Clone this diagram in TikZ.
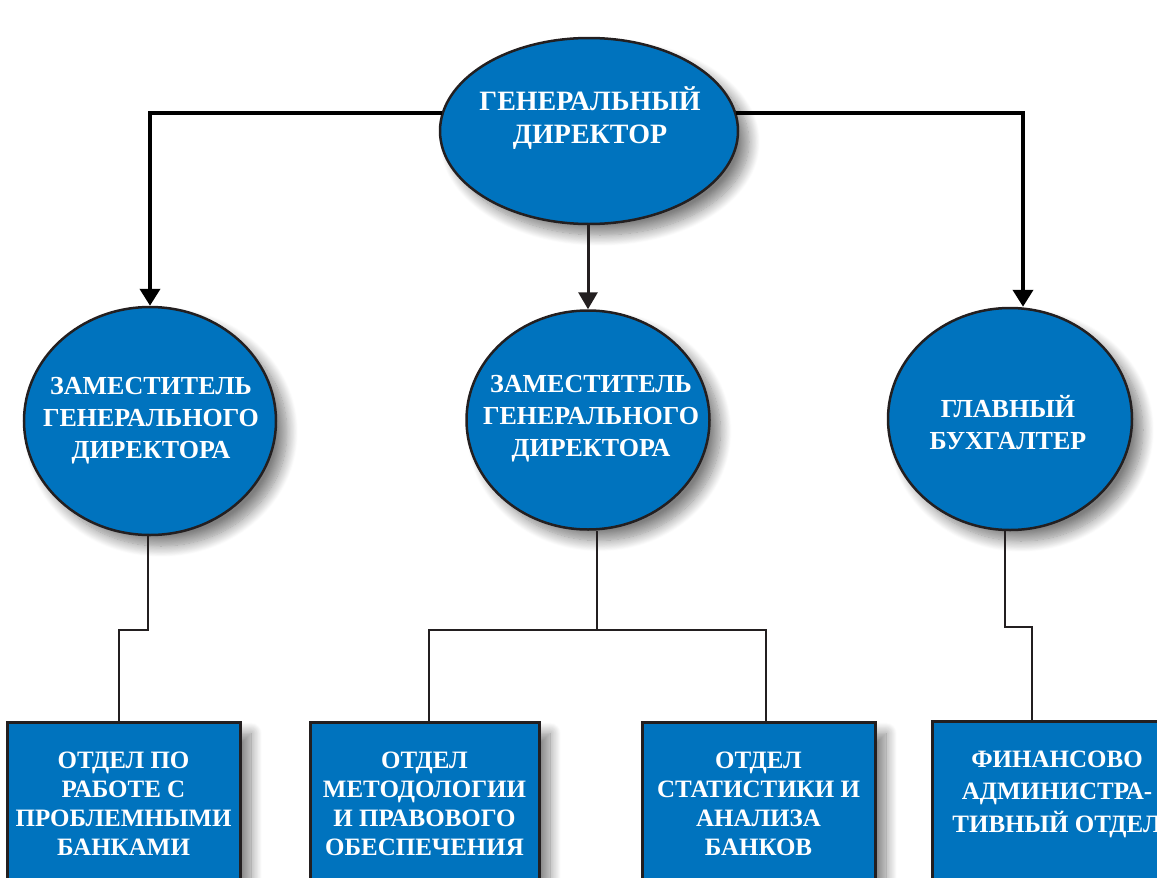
\documentclass[tikz,border=0pt]{standalone}
\usepackage{fontspec}
\setmainfont{Liberation Serif}
\usetikzlibrary{shapes.geometric,arrows.meta,shadows.blur,calc}
\definecolor{nblue}{RGB}{0,115,190}
\definecolor{linec}{RGB}{35,31,32}
\begin{document}
\begin{tikzpicture}[x=1pt,y=-1pt,
  shad/.style={blur shadow={shadow xshift=11pt, shadow yshift=-11pt, shadow blur radius=11pt, shadow blur steps=14, shadow opacity=50}},
  ell/.style={ellipse, draw=linec, line width=2.5pt, fill=nblue, inner sep=0pt, shad},
  boxn/.style={rectangle, draw=linec, line width=3pt, fill=nblue, text=white, align=center, inner sep=0pt, shad, anchor=north,
     font=\fontsize{25}{29}\selectfont\bfseries},
  ttext/.style={text=white, align=center, inner sep=0pt, font=\fontsize{26}{32}\selectfont\bfseries},
  arr/.style={draw=black, line width=4pt, -{Triangle[width=20pt,length=17pt]}},
  arrm/.style={draw=linec, line width=3pt, -{Triangle[width=19pt,length=17pt]}},
  conn/.style={draw=linec, line width=2.5pt, line join=miter}
]
\useasboundingbox (0,0) rectangle (1157,878);
\clip (0,0) rectangle (1157,878);

% ellipses
\node[ell, minimum width=298pt, minimum height=186pt] (top) at (589,131) {};
\node[ttext, font=\fontsize{28}{33}\selectfont\bfseries] (toptext) at (590,118) {ГЕНЕРАЛЬНЫЙ\\ДИРЕКТОР};
\node[ell, minimum width=252pt, minimum height=228pt] (dep1) at (150,421) {};
\node[ttext] (dep1text) at (151,421) {ЗАМЕСТИТЕЛЬ\\ГЕНЕРАЛЬНОГО\\ДИРЕКТОРА};
\node[ell, minimum width=243pt, minimum height=219pt] (dep2) at (588,420) {};
\node[ttext] (dep2text) at (591,419) {ЗАМЕСТИТЕЛЬ\\ГЕНЕРАЛЬНОГО\\ДИРЕКТОРА};
\node[ell, minimum width=244pt, minimum height=222pt] (acc) at (1010,419) {};
\node[ttext] (acctext) at (1008,423) {ГЛАВНЫЙ\\БУХГАЛТЕР};

% boxes
\node[boxn, minimum width=233pt, minimum height=162pt] (b1) at (123.5,721) {ОТДЕЛ ПО\\РАБОТЕ С\\ПРОБЛЕМНЫМИ\\БАНКАМИ};
\node[boxn, minimum width=229pt, minimum height=162pt] (b2) at (424.5,721) {ОТДЕЛ\\МЕТОДОЛОГИИ\\И ПРАВОВОГО\\ОБЕСПЕЧЕНИЯ};
\node[boxn, minimum width=233pt, minimum height=162pt] (b3) at (758.5,721) {ОТДЕЛ\\СТАТИСТИКИ И\\АНАЛИЗА\\БАНКОВ};
\node[boxn, minimum width=250pt, minimum height=180pt] (b4) at (1057,720) {};
\node[ttext, font=\fontsize{25}{32.5}\selectfont\bfseries] (b4text) at (1057,794) {ФИНАНСОВО\\АДМИНИСТРА-\\ТИВНЫЙ ОТДЕЛ};

% top arrows
\draw[arr] (top.173) -| (dep1.north);
\draw[arr] (top.7) -| ($(acc.north)+(13,0)$);
\draw[arrm] (top.south -| dep2.north) -- (dep2.north);

% lower connectors
\coordinate (k1) at (148,630);
\coordinate (k1b) at (119,630);
\draw[conn] (k1 |- dep1.south) -- (k1) -- (k1b) -- (k1b |- b1.north);

\coordinate (k2) at (597,630);
\coordinate (k2l) at (429,630);
\coordinate (k2r) at (766,630);
\draw[conn] (k2 |- dep2.south) -- (k2);
\draw[conn] (k2l |- b2.north) -- (k2l) -- (k2r) -- (k2r |- b3.north);

\coordinate (k3) at (1005,627);
\coordinate (k3b) at (1032,627);
\draw[conn] (k3 |- acc.south) -- (k3) -- (k3b) -- (k3b |- b4.north);
\end{tikzpicture}
\end{document}
